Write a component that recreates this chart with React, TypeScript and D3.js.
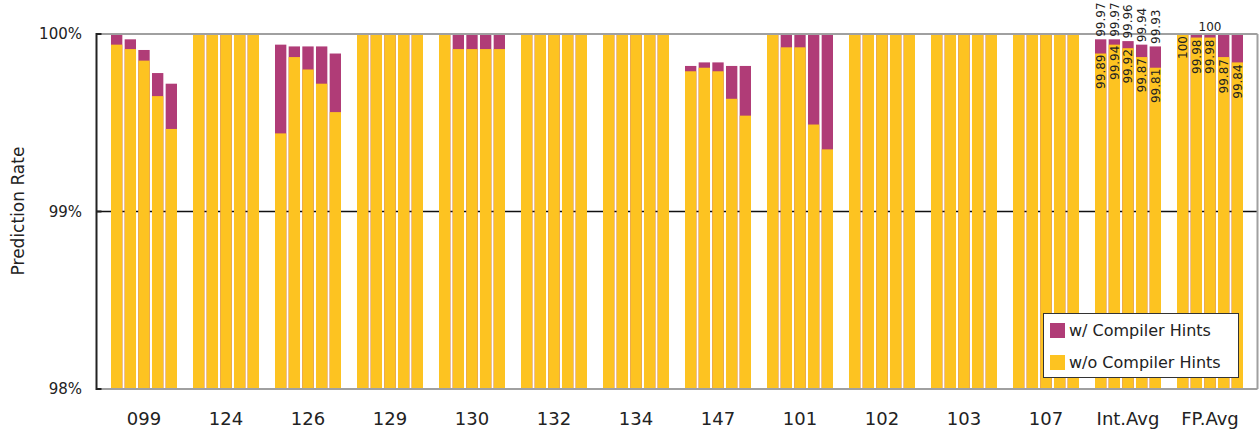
import React from "react";
import * as d3 from "d3";

const categories = ["099", "124", "126", "129", "130", "132", "134", "147", "101", "102", "103", "107", "Int.Avg", "FP.Avg"];

const withHints: number[][] = [
  [100, 99.97, 99.91, 99.78, 99.72],
  [100, 100, 100, 100, 100],
  [99.94, 99.93, 99.93, 99.93, 99.89],
  [100, 100, 100, 100, 100],
  [100, 100, 100, 100, 100],
  [100, 100, 100, 100, 100],
  [100, 100, 100, 100, 100],
  [99.82, 99.84, 99.84, 99.82, 99.82],
  [100, 100, 100, 100, 100],
  [100, 100, 100, 100, 100],
  [100, 100, 100, 100, 100],
  [100, 100, 100, 100, 100],
  [99.97, 99.97, 99.96, 99.94, 99.93],
  [100, 100, 100, 100, 100],
];

const withoutHints: number[][] = [
  [99.94, 99.915, 99.85, 99.65, 99.465],
  [100, 100, 100, 100, 100],
  [99.44, 99.87, 99.8, 99.72, 99.56],
  [100, 100, 100, 100, 100],
  [100, 99.915, 99.915, 99.915, 99.915],
  [100, 100, 100, 100, 100],
  [100, 100, 100, 100, 100],
  [99.79, 99.81, 99.79, 99.635, 99.54],
  [100, 99.925, 99.925, 99.49, 99.35],
  [100, 100, 100, 100, 100],
  [100, 100, 100, 100, 100],
  [100, 100, 100, 100, 100],
  [99.89, 99.94, 99.92, 99.87, 99.81],
  [100, 99.98, 99.98, 99.87, 99.84],
];

const intAvgWithLabels = ["99.97", "99.97", "99.96", "99.94", "99.93"];
const intAvgWithoutLabels = ["99.89", "99.94", "99.92", "99.87", "99.81"];
const fpAvgWithLabel = "100";
const fpAvgWithoutLabels = ["100", "99.98", "99.98", "99.87", "99.84"];

const yTicks = [98, 99, 100];
const yTickLabels = ["98%", "99%", "100%"];
const legendLabels = ["w/ Compiler Hints", "w/o Compiler Hints"];

const YELLOW = "#fdc321";
const PURPLE = "#b03c77";
const FONT = "DejaVu Sans, Verdana, sans-serif";

export default function App() {
  const W = 1259, H = 430;
  const left = 96.5, right = 1257.5, top = 34, bottom = 389;
  const y = d3.scaleLinear().domain([98, 100]).range([bottom, top]);
  const x = d3.scaleBand<string>().domain(categories).range([103, 1251]).padding(0);
  const inner = d3.scaleBand<number>().domain(d3.range(5)).range([8, 74]).paddingInner(0.17);
  const bw = inner.bandwidth();

  const bars: React.ReactNode[] = [];
  const labels: React.ReactNode[] = [];
  categories.forEach((c, gi) => {
    const gx = x(c)!;
    for (let i = 0; i < 5; i++) {
      const bx = gx + inner(i)!;
      const w = withHints[gi][i];
      const wo = withoutHints[gi][i];
      bars.push(
        <rect key={`p${gi}-${i}`} x={bx} y={y(w)} width={bw} height={bottom - y(w)} fill={PURPLE} />
      );
      bars.push(
        <rect key={`y${gi}-${i}`} x={bx} y={y(wo)} width={bw} height={bottom - y(wo)} fill={YELLOW} />
      );
      const cx = bx + bw / 2;
      if (c === "Int.Avg") {
        const ty = y(w) - 2.5;
        labels.push(
          <text key={`lw${i}`} transform={`translate(${cx},${ty}) rotate(-90)`} dy="0.36em" fontSize={12} textAnchor="start" fill="#222">
            {intAvgWithLabels[i]}
          </text>
        );
        const ty2 = y(wo) + 1;
        labels.push(
          <text key={`lwo${i}`} transform={`translate(${cx},${ty2}) rotate(-90)`} dy="0.36em" fontSize={12} textAnchor="end" fill="#222">
            {intAvgWithoutLabels[i]}
          </text>
        );
      }
      if (c === "FP.Avg") {
        const ty2 = y(wo) + 2;
        labels.push(
          <text key={`fwo${i}`} transform={`translate(${cx},${ty2}) rotate(-90)`} dy="0.36em" fontSize={12} textAnchor="end" fill="#222">
            {fpAvgWithoutLabels[i]}
          </text>
        );
      }
    }
    if (c === "FP.Avg") {
      labels.push(
        <text key="fpw" x={gx + x.bandwidth() / 2} y={31} fontSize={12} textAnchor="middle" fill="#222">
          {fpAvgWithLabel}
        </text>
      );
    }
  });

  return (
    <div style={{ position: "absolute", left: 0, top: 0 }}>
      <svg width={W} height={H} style={{ display: "block", fontFamily: FONT }}>
        <rect x={0} y={0} width={W} height={H} fill="#fff" />
        <line x1={left} x2={right} y1={y(99)} y2={y(99)} stroke="#111" strokeWidth={1.5} />
        {bars}
        <line x1={left} x2={right} y1={top} y2={top} stroke="#a0a0a0" strokeWidth={2} />
        <line x1={right} x2={right} y1={top} y2={bottom} stroke="#a0a0a0" strokeWidth={2} />
        <line x1={left} x2={right} y1={bottom} y2={bottom} stroke="#a0a0a0" strokeWidth={2} />
        <line x1={left} x2={left} y1={top - 1} y2={bottom + 1} stroke="#222" strokeWidth={2} />
        {yTicks.map((t, i) => (
          <g key={t}>
            <line x1={left} x2={left + 5} y1={y(t)} y2={y(t)} stroke="#222" strokeWidth={2} />
            <text x={82} y={y(t)} dy="0.36em" textAnchor="end" fontSize={15} fill="#222">
              {yTickLabels[i]}
            </text>
          </g>
        ))}
        <text transform={`translate(24,211) rotate(-90)`} textAnchor="middle" fontSize={17} fill="#222">
          Prediction Rate
        </text>
        {categories.map((c) => (
          <text key={c} x={x(c)! + x.bandwidth() / 2} y={425} textAnchor="middle" fontSize={18} fill="#222">
            {c}
          </text>
        ))}
        {labels}
        <g>
          <rect x={1043.5} y={313.5} width={195} height={64} fill="#fff" stroke="#333" strokeWidth={1} />
          <rect x={1050} y={323} width={15} height={15} fill={PURPLE} />
          <rect x={1050} y={355} width={15} height={15} fill={YELLOW} />
          <text x={1069} y={336} fontSize={16} fill="#222">{legendLabels[0]}</text>
          <text x={1069} y={368} fontSize={16} fill="#222">{legendLabels[1]}</text>
        </g>
      </svg>
    </div>
  );
}
